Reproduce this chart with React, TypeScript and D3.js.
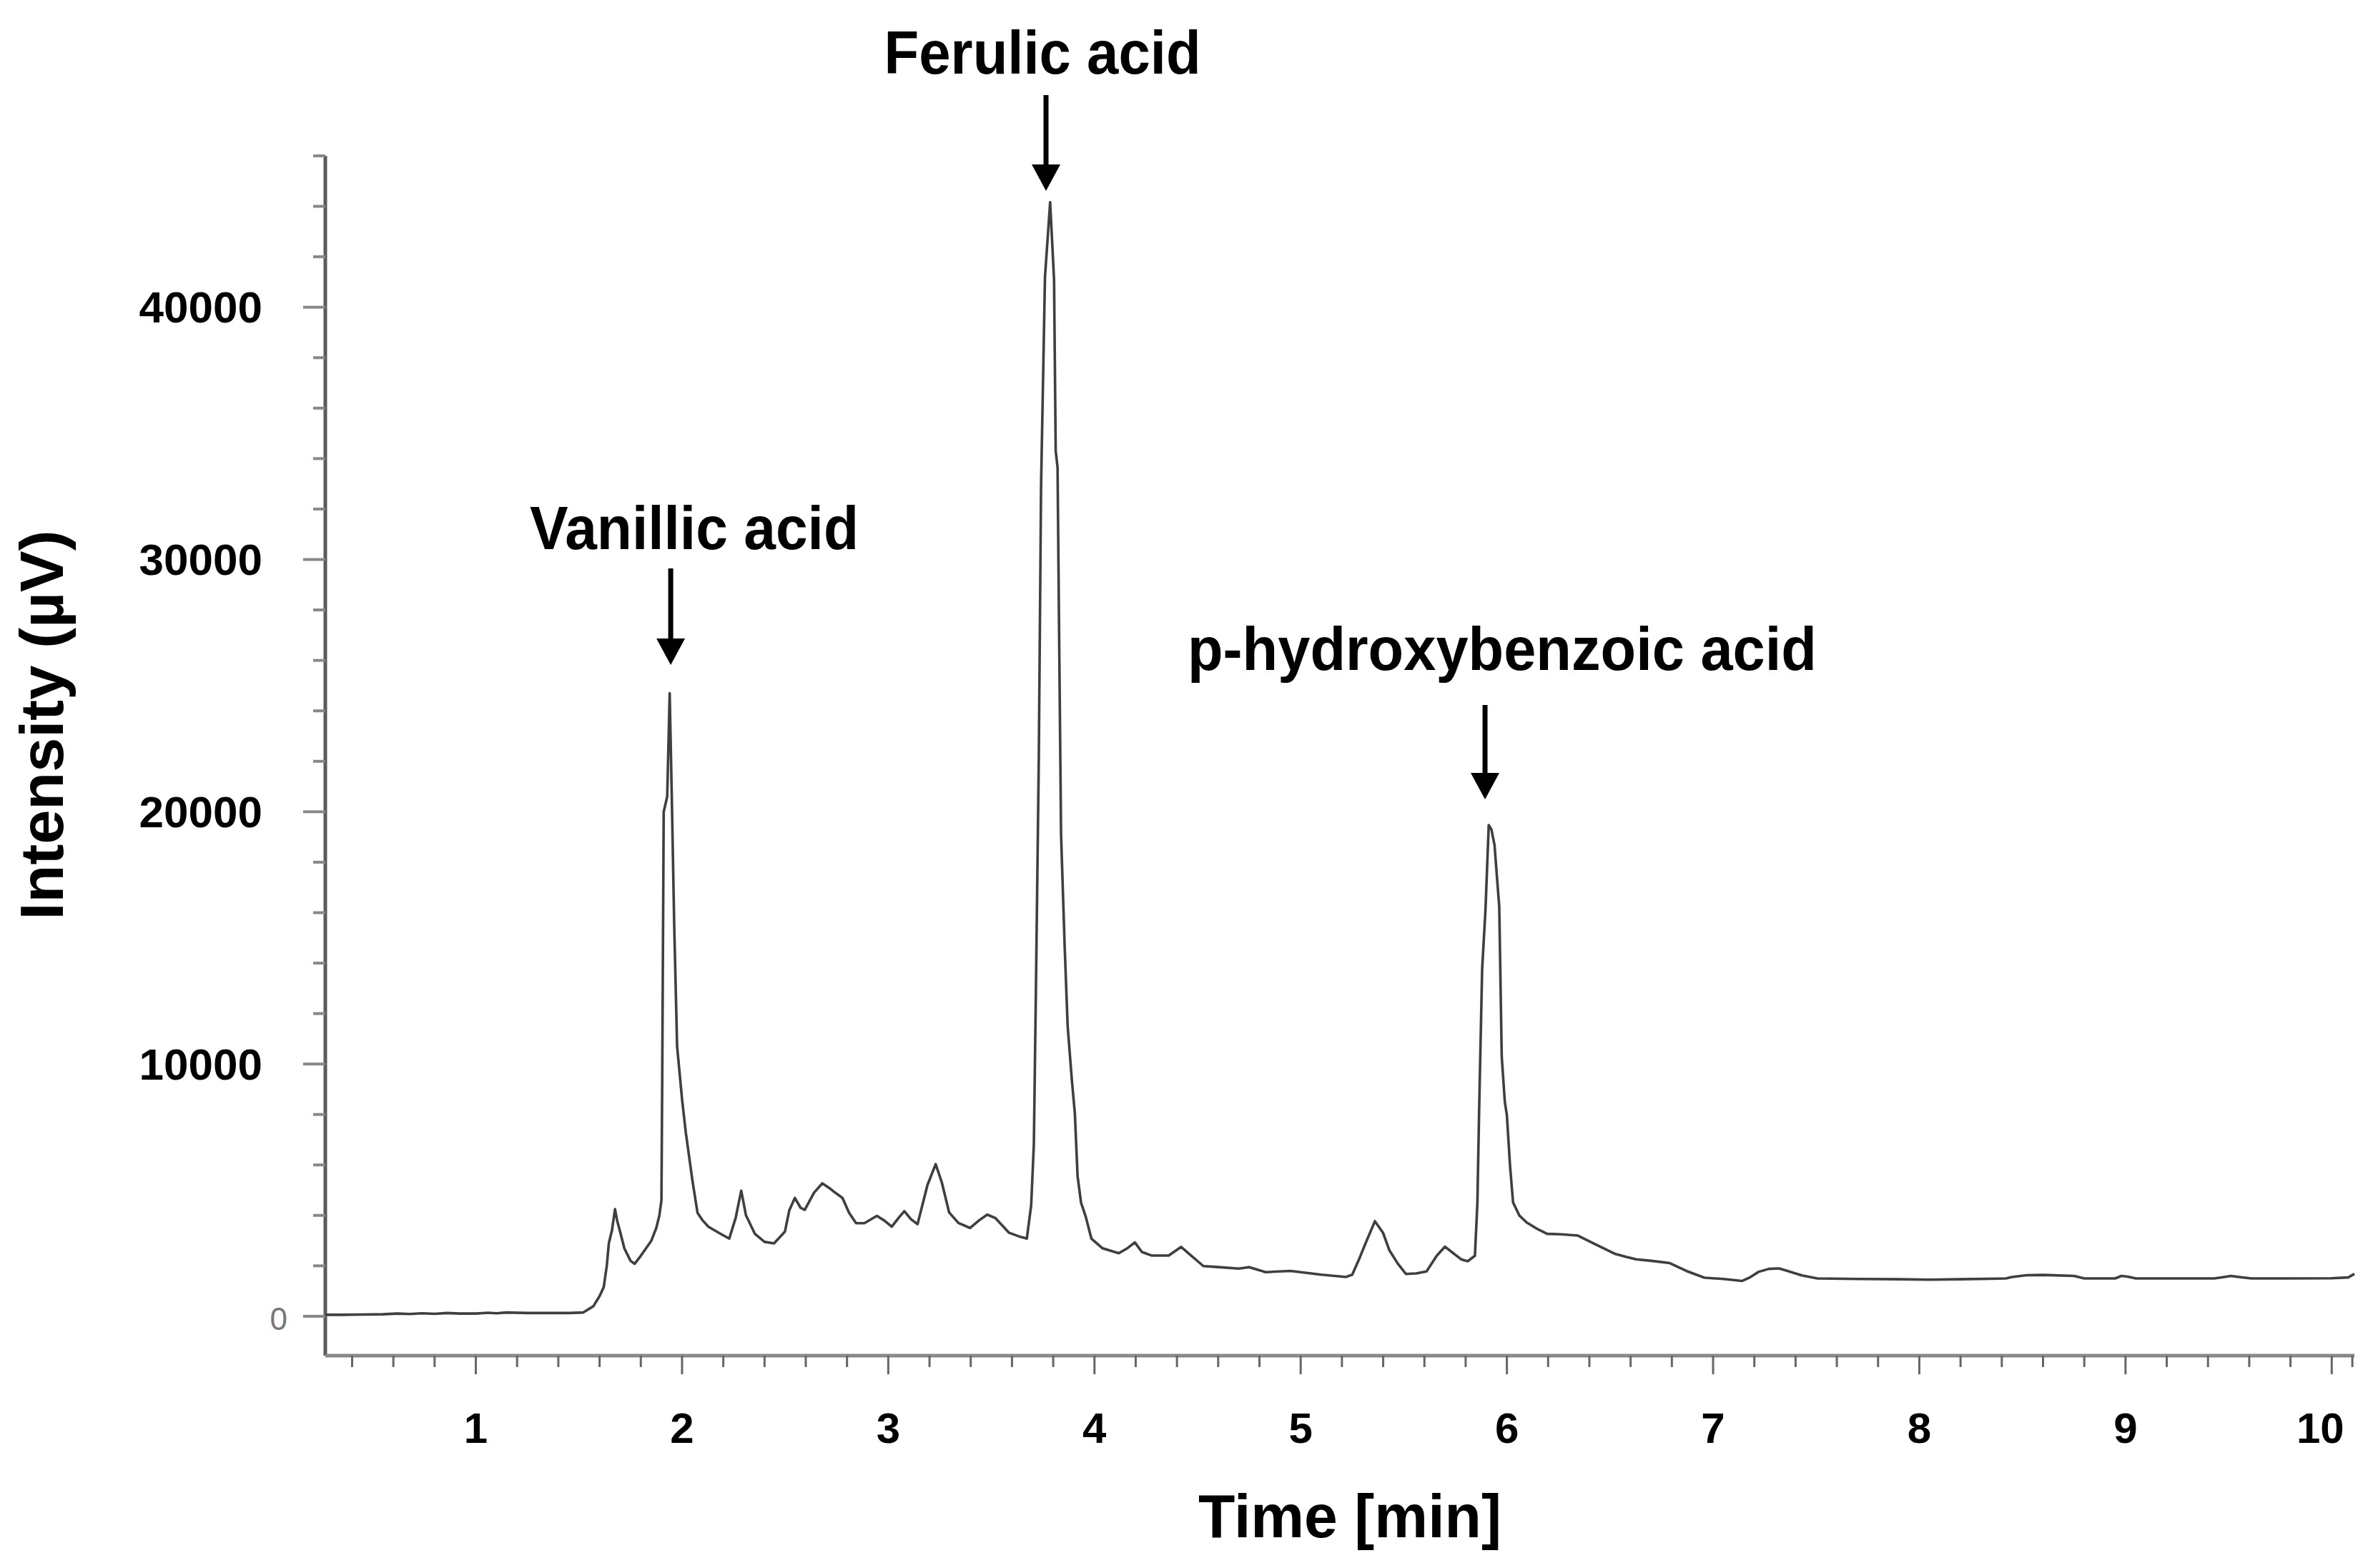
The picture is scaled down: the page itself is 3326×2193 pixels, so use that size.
import React from 'react';
import * as d3 from 'd3';

// Chromatogram samples: time (min) and intensity (µV)
const timeMin = [
  0.27, 0.35, 0.45, 0.55, 0.62, 0.68, 0.74, 0.8, 0.86, 0.92, 1.0, 1.06, 1.1, 1.15, 1.25, 1.35, 1.45, 1.52,
  1.57, 1.6, 1.62, 1.635, 1.645, 1.66, 1.675, 1.685, 1.698, 1.72, 1.75, 1.77, 1.8, 1.85, 1.875, 1.89,
  1.9, 1.904, 1.911, 1.928, 1.94, 1.95, 1.962, 1.976, 2.0, 2.018, 2.05, 2.075, 2.1, 2.128, 2.18, 2.229,
  2.26, 2.287, 2.31, 2.353, 2.4, 2.446, 2.499, 2.52, 2.547, 2.575, 2.595, 2.64, 2.68, 2.72, 2.738, 2.778,
  2.81, 2.844, 2.884, 2.945, 2.98, 3.017, 3.05, 3.078, 3.11, 3.142, 3.19, 3.23, 3.26, 3.295, 3.34, 3.397,
  3.44, 3.48, 3.52, 3.586, 3.64, 3.672, 3.693, 3.706, 3.716, 3.73, 3.741, 3.76, 3.785, 3.804, 3.812, 3.821,
  3.83, 3.838, 3.856, 3.87, 3.89, 3.905, 3.918, 3.935, 3.958, 3.985, 4.038, 4.118, 4.16, 4.196, 4.23, 4.276,
  4.36, 4.42, 4.47, 4.528, 4.6, 4.7, 4.75, 4.83, 4.95, 5.05, 5.1, 5.22, 5.25, 5.28, 5.32, 5.36, 5.4, 5.43,
  5.47, 5.51, 5.56, 5.61, 5.66, 5.7, 5.74, 5.78, 5.81, 5.845, 5.857, 5.865, 5.88, 5.896, 5.912, 5.925, 5.94,
  5.963, 5.975, 5.99, 6.0, 6.015, 6.03, 6.06, 6.096, 6.15, 6.195, 6.26, 6.344, 6.43, 6.526, 6.58, 6.626, 6.7,
  6.79, 6.87, 6.958, 7.05, 7.14, 7.18, 7.22, 7.27, 7.32, 7.38, 7.43, 7.506, 7.7, 7.9, 8.05, 8.2, 8.42, 8.45,
  8.52, 8.6, 8.75, 8.8, 8.95, 8.98, 9.01, 9.05, 9.2, 9.43, 9.48, 9.51, 9.55, 9.61, 9.8, 10.0, 10.08, 10.11,
];
const intensityUV = [
  60, 60, 70, 80, 110, 90, 120, 100, 130, 110, 110, 140, 120, 150, 130, 130, 130, 150,
  400, 800, 1150, 2000, 2900, 3400, 4250, 3800, 3400, 2700, 2200, 2080, 2400, 2980, 3500, 4000,
  4600, 9600, 20000, 20600, 24700, 20700, 15500, 10700, 8600, 7300, 5400, 4100, 3800, 3550, 3300, 3080,
  3900, 4980, 4000, 3270, 2950, 2890, 3360, 4200, 4690, 4300, 4220, 4900, 5270, 5050, 4930, 4690,
  4100, 3690, 3690, 3980, 3800, 3550, 3900, 4170, 3850, 3650, 5200, 6030, 5300, 4120, 3700, 3500,
  3800, 4030, 3890, 3310, 3150, 3080, 4400, 6800, 12900, 22100, 32900, 41200, 44160, 41100, 34300, 33650,
  25800, 19100, 14540, 11500, 9400, 8030, 5560, 4500, 3940, 3080, 2700, 2500, 2700, 2930, 2550, 2410,
  2410, 2750, 2400, 1990, 1950, 1890, 1950, 1750, 1800, 1700, 1650, 1560, 1650, 2200, 3000, 3770, 3300, 2620,
  2100, 1680, 1700, 1780, 2400, 2760, 2500, 2250, 2180, 2400, 4500, 8000, 13760, 16080, 19470, 19300, 18680,
  16230, 10300, 8500, 7970, 6000, 4510, 4000, 3720, 3450, 3270, 3250, 3200, 2850, 2470, 2350, 2260, 2200,
  2110, 1800, 1530, 1480, 1400, 1550, 1760, 1880, 1900, 1750, 1620, 1500, 1480, 1470, 1450, 1470, 1500, 1560,
  1630, 1640, 1600, 1500, 1500, 1600, 1570, 1500, 1500, 1500, 1560, 1600, 1560, 1500, 1500, 1510, 1540, 1680,
];

const xMajorTicks = [1, 2, 3, 4, 5, 6, 7, 8, 9, 10];
const xTickLabels = ['1', '2', '3', '4', '5', '6', '7', '8', '9', '10'];
const yMajorTicks = [0, 10000, 20000, 30000, 40000];
const yTickLabels = ['0', '10000', '20000', '30000', '40000'];

const peakNames = ['Vanillic acid', 'Ferulic acid', 'p-hydroxybenzoic acid'];
const labelTime = [2.059, 3.748, 5.977];
const labelBaseValue = [30411, 49259, 25621];
const arrowTime = [1.945, 3.765, 5.894];
const arrowTopValue = [29646, 48409, 24232];
const arrowTipValue = [25819, 44611, 20491];

const xTitle = 'Time [min]';
const yTitle = 'Intensity (µV)';

const W = 3326;
const H = 2193;

export default function App() {
  const x = d3.scaleLinear().domain([0.27, 10.11]).range([455, 3293]);
  const y = d3.scaleLinear().domain([-1560, 46000]).range([1896, 218]);

  const pts: [number, number][] = timeMin.map((t, i) => [t, intensityUV[i]]);
  const line = d3
    .line<[number, number]>()
    .x((d) => x(d[0]))
    .y((d) => y(d[1]))
    .curve(d3.curveLinear);

  const xMinor = d3.range(0.4, 10.01, 0.2).filter((v) => Math.abs(v - Math.round(v)) > 0.01);
  xMinor.push(10.1);
  const yMinor = d3.range(2000, 46001, 2000).filter((v) => v % 10000 !== 0);

  const [x0, x1] = x.range();
  const [yb, yt] = y.range();

  const boldFont = "'Liberation Sans', Arial, sans-serif";
  const labelLen = [460, 443, 880];

  return (
    <svg
      width={W}
      height={H}
      viewBox={`0 0 ${W} ${H}`}
      style={{ position: 'absolute', left: 0, top: 0, background: '#fff' }}
    >
      <rect x={0} y={0} width={W} height={H} fill="#fff" />

      {/* y axis */}
      <line x1={x0} x2={x0} y1={yt} y2={yb} stroke="#5a5a5a" strokeWidth={5} />
      {yMinor.map((v) => (
        <line key={'ym' + v} x1={x0 - 17} x2={x0} y1={y(v)} y2={y(v)} stroke="#888" strokeWidth={4} />
      ))}
      {yMajorTicks.map((v) => (
        <line key={'yM' + v} x1={x0 - 31} x2={x0} y1={y(v)} y2={y(v)} stroke="#888" strokeWidth={4} />
      ))}
      {yMajorTicks.map((v, i) =>
        v === 0 ? (
          <text
            key={'yl' + v}
            x={x0 - 53}
            y={y(v) + 4}
            textAnchor="end"
            dominantBaseline="central"
            fontFamily={boldFont}
            fontSize={44}
            fill="#777"
          >
            {yTickLabels[i]}
          </text>
        ) : (
          <text
            key={'yl' + v}
            x={x0 - 88}
            y={y(v)}
            textAnchor="end"
            dominantBaseline="central"
            fontFamily={boldFont}
            fontWeight="bold"
            fontSize={62}
            fill="#000"
          >
            {yTickLabels[i]}
          </text>
        )
      )}

      {/* x axis */}
      <line x1={x0} x2={x1} y1={yb} y2={yb} stroke="#888" strokeWidth={5} />
      {xMinor.map((v) => (
        <line key={'xm' + v.toFixed(2)} x1={x(v)} x2={x(v)} y1={yb} y2={yb + 16} stroke="#666" strokeWidth={3} />
      ))}
      {xMajorTicks.map((v) => (
        <line key={'xM' + v} x1={x(v)} x2={x(v)} y1={yb} y2={yb + 26} stroke="#666" strokeWidth={3} />
      ))}
      {xMajorTicks.map((v, i) => (
        <text
          key={'xl' + v}
          x={x(v) + (v === 10 ? -16 : 0)}
          y={2018}
          textAnchor="middle"
          fontFamily={boldFont}
          fontWeight="bold"
          fontSize={60}
          fill="#000"
        >
          {xTickLabels[i]}
        </text>
      ))}

      {/* chromatogram */}
      <path d={line(pts) || ''} fill="none" stroke="#3f3f3f" strokeWidth={3.6} strokeLinejoin="round" />

      {/* peak annotations */}
      {peakNames.map((name, i) => {
        const ax = x(arrowTime[i]);
        const top = y(arrowTopValue[i]);
        const tip = y(arrowTipValue[i]);
        const headH = 37;
        const headW = 40;
        return (
          <g key={name}>
            <line x1={ax} x2={ax} y1={top} y2={tip - headH + 4} stroke="#000" strokeWidth={7} />
            <path
              d={`M${ax - headW / 2},${tip - headH} L${ax + headW / 2},${tip - headH} L${ax},${tip} Z`}
              fill="#000"
            />
            <text
              x={x(labelTime[i])}
              y={y(labelBaseValue[i])}
              textAnchor="middle"
              fontFamily={boldFont}
              fontWeight="bold"
              fontSize={86}
              textLength={labelLen[i]}
              lengthAdjust="spacingAndGlyphs"
              fill="#000"
            >
              {name}
            </text>
          </g>
        );
      })}

      {/* axis titles */}
      <text
        x={1888}
        y={2150}
        textAnchor="middle"
        fontFamily={boldFont}
        fontWeight="bold"
        fontSize={86}
        textLength={424}
        lengthAdjust="spacingAndGlyphs"
        fill="#000"
      >
        {xTitle}
      </text>
      <text
        transform={`translate(88,1014) rotate(-90)`}
        x={0}
        y={0}
        textAnchor="middle"
        fontFamily={boldFont}
        fontWeight="bold"
        fontSize={86}
        textLength={545}
        lengthAdjust="spacingAndGlyphs"
        fill="#000"
      >
        {yTitle}
      </text>
    </svg>
  );
}
